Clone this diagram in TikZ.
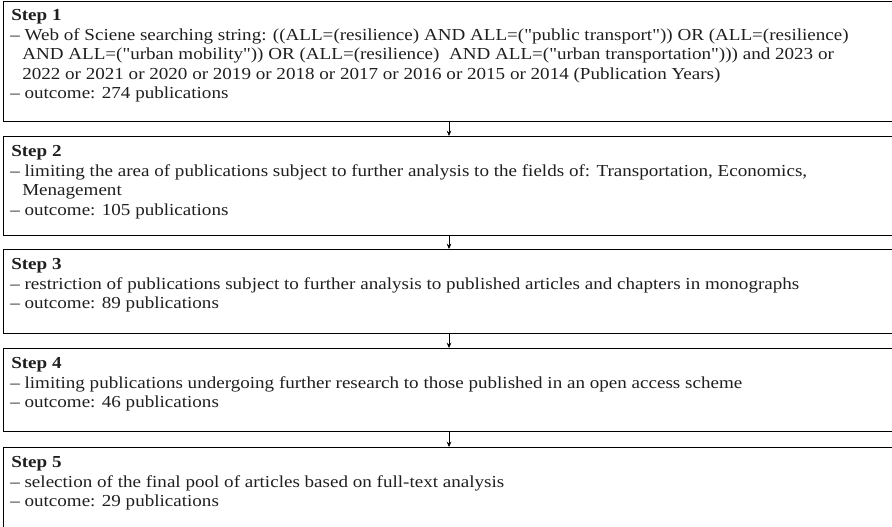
\documentclass[tikz,border=0pt]{standalone}
\usepackage{fontspec}
\setmainfont{Liberation Serif}[FakeStretch=1.135, Ligatures=TeXOff]
\usetikzlibrary{arrows.meta}
\begin{document}
\begin{tikzpicture}[x=0.75pt,y=-0.75pt,
  stepbox/.style={draw=black, line width=0.9pt, rectangle, inner sep=0pt,
    anchor=north west, minimum width=676.5pt},
  txt/.style={anchor=base west, inner sep=0pt, text=black!88,
    font=\fontsize{12.6}{15}\selectfont},
  head/.style={txt, font=\fontsize{12.6}{15}\selectfont\bfseries},
  flow/.style={draw=black, line width=0.6pt, -{Stealth[length=4pt,width=3.5pt]}}]
\useasboundingbox (0,0) rectangle (892,526);

% step boxes
\node[stepbox, minimum height=90pt]    (s1) at (3,1)   {};
\node[stepbox, minimum height=74.25pt] (s2) at (3,136) {};
\node[stepbox, minimum height=63pt]    (s3) at (3,249) {};
\node[stepbox, minimum height=62.25pt] (s4) at (3,348) {};
\node[stepbox, minimum height=63pt]    (s5) at (3,447) {};

% step 1
\node[head] (h1) at (11,20.7) {Step 1};
\node[txt] (t1a) at (10,40) {– Web of Sciene searching string: ((ALL=(resilience) AND ALL=("public transport")) OR (ALL=(resilience)};
\node[txt] (t1b) at (22,59.5) {AND ALL=("urban mobility")) OR (ALL=(resilience)\ \ AND ALL=("urban transportation"))) and 2023 or};
\node[txt] (t1c) at (22,79) {2022 or 2021 or 2020 or 2019 or 2018 or 2017 or 2016 or 2015 or 2014 (Publication Years)};
\node[txt] (t1d) at (10,98.5) {– outcome: 274 publications};

% step 2
\node[head] (h2) at (11,156.5) {Step 2};
\node[txt] (t2a) at (10,176) {– limiting the area of publications subject to further analysis to the fields of: Transportation, Economics,};
\node[txt] (t2b) at (22,195.5) {Menagement};
\node[txt] (t2c) at (10,215) {– outcome: 105 publications};

% step 3
\node[head] (h3) at (11,269.7) {Step 3};
\node[txt] (t3a) at (10,289.2) {– restriction of publications subject to further analysis to published articles and chapters in monographs};
\node[txt] (t3b) at (10,308.7) {– outcome: 89 publications};

% step 4
\node[head] (h4) at (11,368.7) {Step 4};
\node[txt] (t4a) at (10,388.2) {– limiting publications undergoing further research to those published in an open access scheme};
\node[txt] (t4b) at (10,407.7) {– outcome: 46 publications};

% step 5
\node[head] (h5) at (11,467.7) {Step 5};
\node[txt] (t5a) at (10,487.2) {– selection of the final pool of articles based on full-text analysis};
\node[txt] (t5b) at (10,506.7) {– outcome: 29 publications};

% connectors between consecutive steps
\coordinate (ax) at (449,0);
\draw[flow] (s1.south -| ax) -- (s2.north -| ax);
\draw[flow] (s2.south -| ax) -- (s3.north -| ax);
\draw[flow] (s3.south -| ax) -- (s4.north -| ax);
\draw[flow] (s4.south -| ax) -- (s5.north -| ax);
\end{tikzpicture}
\end{document}
